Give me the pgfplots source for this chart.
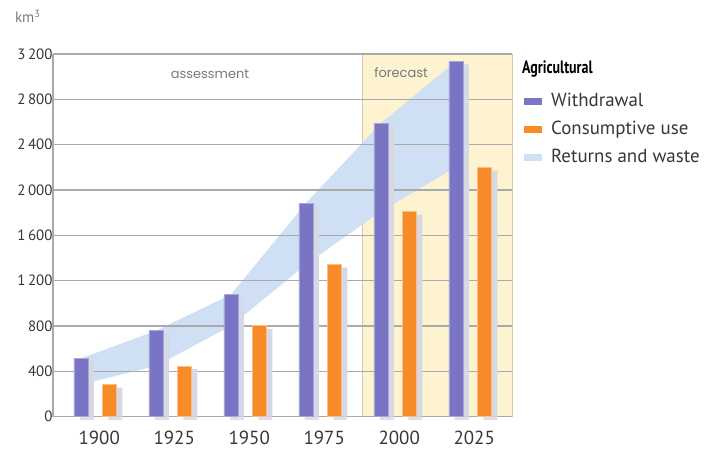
\documentclass[border=0pt]{standalone}
\usepackage{pgfplots}
\pgfplotsset{compat=1.18}
\usepackage{fontspec}
\setmainfont{PT Sans}
\newfontfamily\headfont[FakeStretch=0.78]{PT Sans}
\newfontfamily\notefont{Poppins}

\definecolor{wcol}{RGB}{122,116,196}
\definecolor{ccol}{RGB}{246,139,40}
\definecolor{bandcol}{RGB}{207,224,244}
\definecolor{fcbg}{RGB}{253,243,208}
\definecolor{fcborder}{RGB}{214,200,160}
\definecolor{shadowcol}{RGB}{214,216,228}
\definecolor{gridgray}{RGB}{170,170,170}
\definecolor{textgray}{RGB}{55,55,55}
\definecolor{notegray}{RGB}{120,120,120}

\begin{document}
\begin{tikzpicture}
\path (0,0) rectangle (710bp,462bp);
\begin{axis}[
  set layers, clip=false,
  at={(53bp,45.3bp)}, anchor=south west,
  x=75bp, y=0.11334bp,
  xmin=-0.563, xmax=5.557, ymin=0, ymax=3200,
  axis x line=bottom, axis y line=left,
  axis line style={-, draw=gridgray, line width=1.2bp},
  ytick={0,400,...,3200},
  ymajorgrids, grid style={gridgray, line width=1.2bp},
  xtick={0,1,2,3,4,5},
  xticklabels={1900,1925,1950,1975,2000,2025},
  major tick length=0pt,
  /pgf/number format/assume math mode=true,
  /pgf/number format/1000 sep={\kern2.5bp},
  yticklabel style={font=\fontsize{15}{15}\selectfont, text=textgray, xshift=3bp},
  xticklabel style={font=\fontsize{19}{19}\selectfont, text=textgray, xshift=4bp, yshift=-11bp},
  legend style={at={(axis description cs:1.026,0.898)}, anchor=north west,
    draw=none, fill=none, inner sep=0pt,
    font=\fontsize{19}{19}\selectfont, text=textgray,
    nodes={inner sep=1bp, text height=14bp, text depth=4bp},
    row sep=8bp,
    /tikz/every odd column/.append style={column sep=8bp}},
  legend cell align=left,
  legend image code/.code={\path[#1, draw=none] (0bp,-3.5bp) rectangle (18bp,3.5bp);},
]

% forecast period background
\addplot[on layer=axis background, fill=fcbg, draw=fcborder, line width=1bp, forget plot]
  coordinates {(3.57,0) (3.57,3200) (5.557,3200) (5.557,0)};

% returns and waste: band between withdrawal and consumptive use
\addplot[on layer=axis background, fill=bandcol, draw=none, forget plot]
  coordinates {(-0.19,515) (0.81,758) (1.81,1078) (2.81,1885) (3.81,2590) (4.81,3136)
               (4.81,2202) (3.81,1812) (2.81,1343) (1.81,802) (0.81,447) (-0.19,285)};

% bar shadows
\addplot[ybar, bar width=0.187, bar shift=-0.11, fill=shadowcol, draw=none, forget plot]
  coordinates {(0,487) (1,730) (2,1050) (3,1857) (4,2562) (5,3108)};
\addplot[ybar, bar width=0.187, bar shift=0.27, fill=shadowcol, draw=none, forget plot]
  coordinates {(0,257) (1,419) (2,774) (3,1315) (4,1784) (5,2174)};
\addplot[ybar, bar width=0.187, bar shift=-0.11, fill=shadowcol!80!white, draw=none, forget plot]
  coordinates {(0,-30) (1,-30) (2,-30) (3,-30) (4,-30) (5,-30)};
\addplot[ybar, bar width=0.187, bar shift=0.27, fill=shadowcol!80!white, draw=none, forget plot]
  coordinates {(0,-30) (1,-30) (2,-30) (3,-30) (4,-30) (5,-30)};

% withdrawal
\addplot[ybar, bar width=0.187, bar shift=-0.19, fill=wcol, draw=wcol!65!white, line width=0.8bp, forget plot]
  coordinates {(0,515) (1,758) (2,1078) (3,1885) (4,2590) (5,3136)};
% consumptive use
\addplot[ybar, bar width=0.187, bar shift=0.19, fill=ccol, draw=ccol!55!white, line width=0.8bp, forget plot]
  coordinates {(0,285) (1,447) (2,802) (3,1343) (4,1812) (5,2202)};

\addlegendimage{fill=wcol}
\addlegendentry{Withdrawal}
\addlegendimage{fill=ccol}
\addlegendentry{Consumptive use}
\addlegendimage{fill=bandcol}
\addlegendentry{Returns and waste}

\node[text=notegray, font=\notefont\fontsize{13}{13}\selectfont] at (axis cs:1.53,3024) {assessment};
\node[text=notegray, font=\notefont\fontsize{13}{13}\selectfont] at (axis cs:4.077,3040) {forecast};
\node[anchor=base west, inner sep=0pt, text=black, font=\headfont\bfseries\fontsize{18}{18}\selectfont]
  at (axis cs:5.69,3032) {Agricultural};
\node[text=notegray, font=\fontsize{15}{15}\selectfont, anchor=base]
  at (rel axis cs:-0.055,1.087) {km\textsuperscript{3}};
\end{axis}
\end{tikzpicture}
\end{document}
